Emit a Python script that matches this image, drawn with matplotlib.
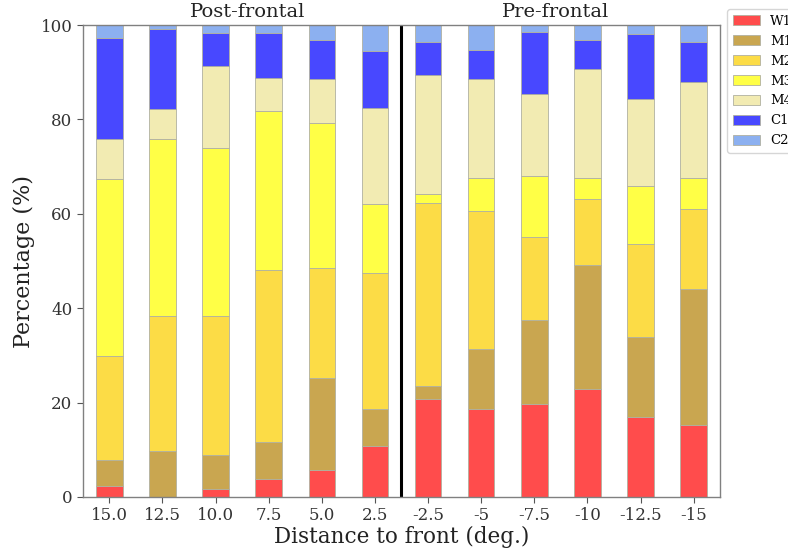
import matplotlib
matplotlib.use("Agg")
import matplotlib.pyplot as plt
import numpy as np

plt.rcParams['font.family'] = ['DejaVu Serif']

tick_labels = ['15.0', '12.5', '10.0', '7.5', '5.0', '2.5',
               '-2.5', '-5', '-7.5', '-10', '-12.5', '-15']
categories = ['W1', 'M1', 'M2', 'M3', 'M4', 'C1', 'C2']

W1 = [2.4, 0.0, 1.6, 3.8, 5.7, 10.9, 20.7, 18.7, 19.8, 22.9, 16.9, 15.2]
M1 = [5.4, 9.7, 7.2, 7.9, 19.6, 7.7, 2.9, 12.6, 17.8, 26.3, 16.9, 28.9]
M2 = [22.0, 28.6, 29.5, 36.5, 23.3, 28.8, 38.6, 29.2, 17.4, 13.9, 19.9, 16.9]
M3 = [37.5, 37.5, 35.7, 33.5, 30.6, 14.7, 2.1, 7.2, 13.0, 4.6, 12.3, 6.7]
M4 = [8.6, 6.5, 17.3, 7.1, 9.3, 20.3, 25.1, 20.8, 17.5, 22.9, 18.4, 20.2]
C1 = [21.4, 16.8, 7.1, 9.6, 8.3, 12.2, 7.0, 6.2, 13.0, 6.2, 13.8, 8.6]
C2 = [2.7, 0.9, 1.6, 1.6, 3.2, 5.4, 3.6, 5.3, 1.5, 3.2, 1.8, 3.5]

series = [W1, M1, M2, M3, M4, C1, C2]
colors = ['#ff4c4c', '#c9a650', '#fcdc46', '#ffff46', '#f2ebb2', '#4848ff', '#8cb0f0']

fig = plt.figure(figsize=(7.88, 5.5), dpi=100)
ax = fig.add_axes([0.105, 0.0964, 0.809, 0.858])

x = np.arange(len(tick_labels))
bottom = np.zeros(len(x))
for name, vals, c in zip(categories, series, colors):
    vals = np.array(vals)
    ax.bar(x, vals, width=0.5, bottom=bottom, color=c, edgecolor='#b0b0a0',
           linewidth=0.6, label=name)
    bottom += vals

ax.axvline(5.5, color='black', linewidth=2.2)
ax.set_xlim(-0.5, 11.5)
ax.set_ylim(0, 100)
ax.set_xticks(x)
ax.set_xticklabels(tick_labels, fontsize=12, color='#333333')
ax.set_yticks([0, 20, 40, 60, 80, 100])
ax.tick_params(axis='y', labelsize=12, colors='#333333')
ax.tick_params(color='#555555', length=4)
for s in ax.spines.values():
    s.set_color('#808080')
    s.set_linewidth(1.0)

ax.set_ylabel('Percentage (%)', fontsize=16, color='#222222')
ax.set_xlabel('Distance to front (deg.)', fontsize=15.5, color='#222222', labelpad=1)

ax.text(2.6, 100.8, 'Post-frontal', ha='center', va='bottom', fontsize=14, color='#222222')
ax.text(8.4, 100.8, 'Pre-frontal', ha='center', va='bottom', fontsize=14, color='#222222')

ax.legend(loc='upper left', bbox_to_anchor=(1.011, 1.034), borderaxespad=0,
          fontsize=9.5, frameon=True, edgecolor='#cccccc', handlelength=2.0,
          handleheight=0.8, labelspacing=0.52, borderpad=0.45, handletextpad=0.8)

fig.savefig('out.png', dpi=100)
